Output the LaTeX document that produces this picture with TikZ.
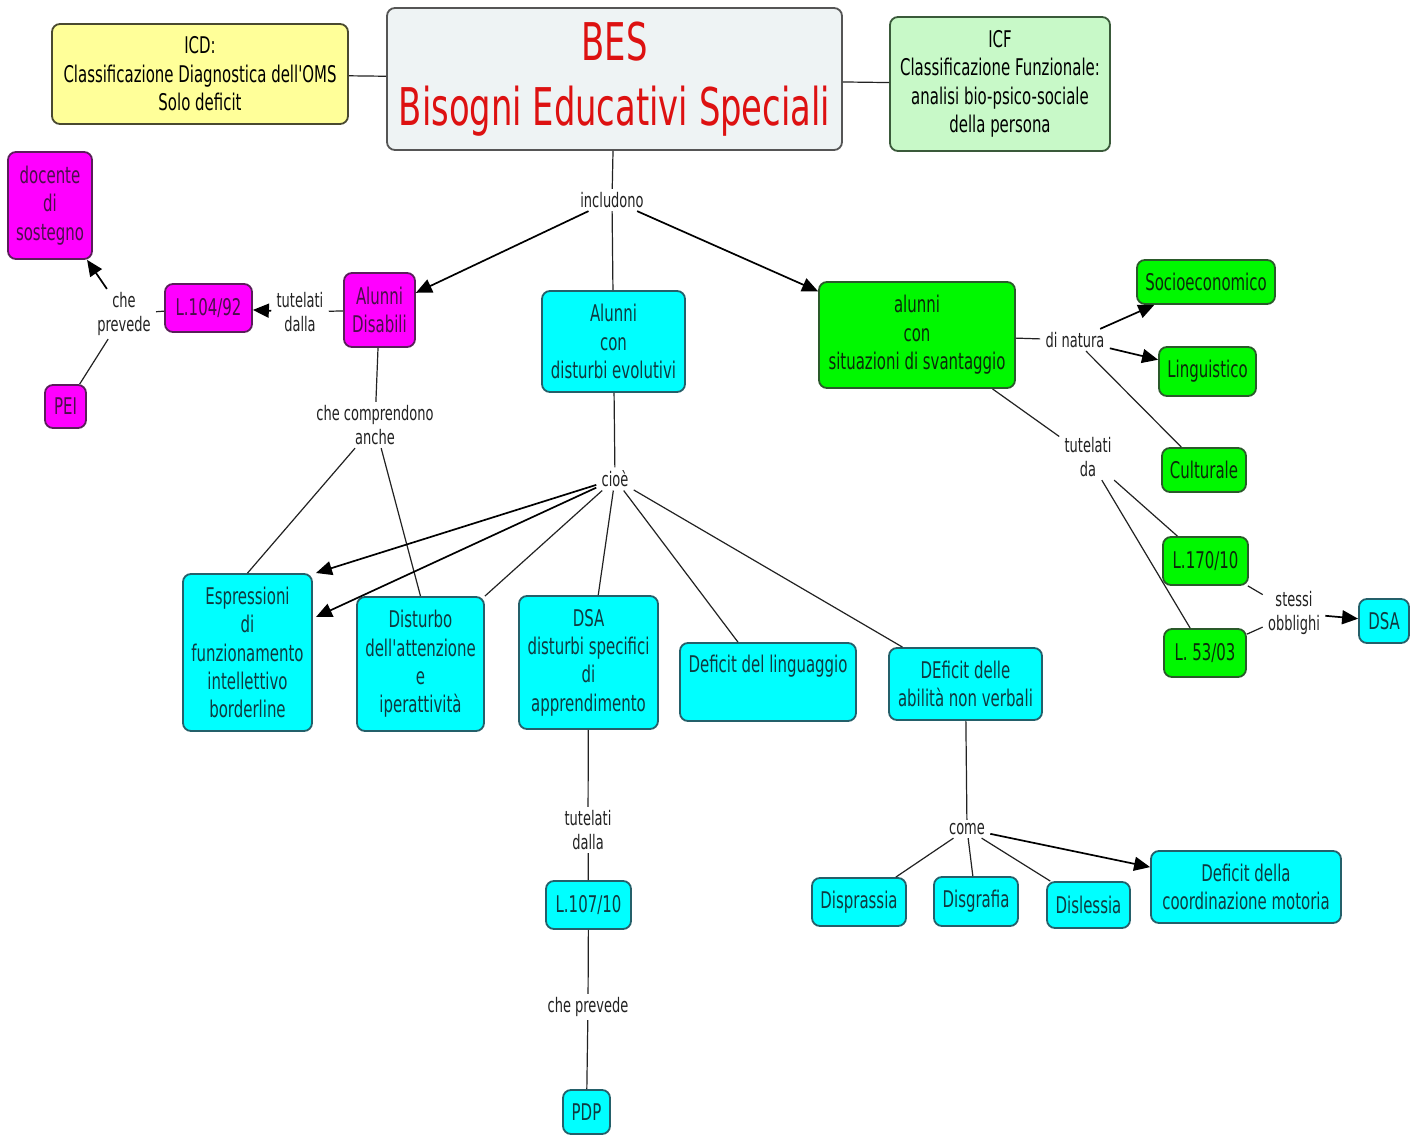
\documentclass[tikz,border=0pt]{standalone}
\usepackage{fontspec}
\setmainfont{DejaVu Sans}[FakeStretch=0.65, Ligatures=TeXOff]
\usetikzlibrary{arrows.meta,calc}
\definecolor{magFill}{HTML}{FF00FF}
\definecolor{magBorder}{HTML}{5A1E5A}
\definecolor{magText}{HTML}{4B0F4B}
\definecolor{cyaFill}{HTML}{00FFFF}
\definecolor{cyaBorder}{HTML}{24606A}
\definecolor{cyaText}{HTML}{0F3A40}
\definecolor{grnFill}{HTML}{00F800}
\definecolor{grnBorder}{HTML}{2A5A2A}
\definecolor{grnText}{HTML}{0A2A0A}
\definecolor{yelFill}{HTML}{FFFF99}
\definecolor{yelBorder}{HTML}{4A4A30}
\definecolor{besFill}{HTML}{EEF3F4}
\definecolor{besBorder}{HTML}{555555}
\definecolor{besText}{HTML}{DD1111}
\definecolor{icfFill}{HTML}{C8F9C8}
\definecolor{icfBorder}{HTML}{3A5A3A}
\definecolor{lineCol}{HTML}{222222}
\definecolor{labText}{HTML}{222222}
\tikzset{
  box/.style={draw, rounded corners=4pt, line width=0.9pt, align=center, inner sep=0pt,
    font=\fontsize{11.5}{14.2}\selectfont},
  mag/.style={box, fill=magFill, draw=magBorder, text=magText},
  cya/.style={box, fill=cyaFill, draw=cyaBorder, text=cyaText},
  grn/.style={box, fill=grnFill, draw=grnBorder, text=grnText},
  lab/.style={fill=white, inner xsep=2.5pt, inner ysep=1.5pt, align=center,
    font=\fontsize{10}{12}\selectfont, text=labText},
  conn/.style={line width=0.6pt, draw=lineCol},
  arr/.style={line width=0.85pt, draw=black, -{Triangle[length=8pt,width=7pt]}},
  sz/.style 2 args={minimum width=#1pt, minimum height=#2pt}
}
\begin{document}
\begin{tikzpicture}[x=0.5pt,y=-0.5pt]
\useasboundingbox (0,0) rectangle (1410,1135);
\fill[white] (0,0) rectangle (1410,1135);

% top row
\node[box, fill=yelFill, draw=yelBorder, text=black, sz={148}{50}] (icd) at (200,74)
  {ICD:\\Classificazione Diagnostica dell'OMS\\Solo deficit};
\node[box, fill=besFill, draw=besBorder, text=besText, sz={227.5}{71},
  font=\fontsize{26}{32.5}\selectfont] (bes) at (614.5,79)
  {BES\\Bisogni Educativi Speciali};
\node[box, fill=icfFill, draw=icfBorder, text=black, sz={110}{67}] (icf) at (1000,84)
  {ICF\\Classificazione Funzionale:\\analisi bio-psico-sociale\\della persona};

% magenta
\node[mag, sz={35.5}{37}] (dis) at (379.5,310) {Alunni\\Disabili};
\node[mag, sz={43.5}{24}] (l104) at (208.5,308) {L.104/92};
\node[mag, sz={42}{53.5}] (doc) at (50,205.5) {docente\\di\\sostegno};
\node[mag, sz={20.5}{21.5}] (pei) at (65.5,406.5) {PEI};

% cyan
\node[cya, sz={71.5}{50.5}] (evol) at (613.5,341.5) {Alunni\\con\\disturbi evolutivi};
\node[cya, sz={64.5}{78.5}] (espr) at (247.5,652.5) {Espressioni\\di\\funzionamento\\intellettivo\\borderline};
\node[cya, sz={63.5}{67}] (distatt) at (420.5,664) {Disturbo\\dell'attenzione\\e\\iperattività};
\node[cya, sz={69.5}{66.5}] (dsa) at (588.5,662.5) {DSA\\disturbi specifici\\di\\apprendimento};
\node[cya, sz={88}{39}] (lingu) at (768,682) {Deficit del linguaggio\\\strut};
\node[cya, sz={76.5}{36}] (abil) at (965.5,684) {DEficit delle\\abilità non verbali};
\node[cya, sz={42.5}{24}] (l107) at (588.5,905) {L.107/10};
\node[cya, sz={23.5}{22}] (pdp) at (586.5,1112) {PDP};
\node[cya, sz={47}{24}] (dispr) at (859,902) {Disprassia};
\node[cya, sz={42}{24.5}] (disgr) at (976,901.5) {Disgrafia};
\node[cya, sz={41.5}{23}] (disle) at (1088.5,905) {Dislessia};
\node[cya, sz={95}{36}] (coord) at (1246,887) {Deficit della\\coordinazione motoria};
\node[cya, sz={25}{22}] (dsa2) at (1384,621) {DSA};

% green
\node[grn, sz={98}{53}] (svan) at (917,335) {alunni\\con\\situazioni di svantaggio};
\node[grn, sz={69}{22}] (socio) at (1206,282) {Socioeconomico};
\node[grn, sz={48.5}{24.5}] (lingu2) at (1207.5,371.5) {Linguistico};
\node[grn, sz={42}{22}] (cult) at (1204,470) {Culturale};
\node[grn, sz={42.5}{24}] (l170) at (1205.5,561) {L.170/10};
\node[grn, sz={41}{24}] (l53) at (1205,653) {L. 53/03};

% labels
\node[lab] (incl) at (612,200) {includono};
\node[lab] (tutdalla1) at (300,312) {tutelati\\dalla};
\node[lab] (cheprev1) at (124,314) {che\\prevede};
\node[lab] (comprend) at (375,425) {che comprendono\\anche};
\node[lab] (cioe) at (615,479) {cioè};
\node[lab] (tutdalla2) at (588,830) {tutelati\\dalla};
\node[lab] (cheprev2) at (588,1007) {che prevede};
\node[lab] (come) at (967,829) {come};
\node[lab] (dinatura) at (1075,340) {di natura};
\node[lab] (tutda) at (1088,457) {tutelati\\da};
\node[lab] (stessi) at (1294,613) {stessi\\obblighi};

\coordinate (espA) at (316,573);
\coordinate (espB) at (316,617);

% connectors
\draw[conn] (icd) -- (bes);
\draw[conn] (bes) -- (icf);
\draw[conn] (bes) -- (incl);
\draw[arr] (incl) -- (dis);
\draw[conn] (incl) -- (evol);
\draw[arr] (incl) -- (svan);

\draw[conn] (dis) -- (tutdalla1);
\draw[arr] (tutdalla1) -- (l104);
\draw[conn] (l104) -- (cheprev1);
\draw[arr] (cheprev1) -- (doc);
\draw[conn] (cheprev1) -- (pei);

\draw[conn] (dis) -- (comprend);
\draw[conn] (comprend) -- (espr.north);
\draw[conn] (comprend) -- (distatt.north);

\draw[conn] (evol) -- (cioe);
\draw[arr] (cioe) -- (espA);
\draw[arr] (cioe) -- (espB);
\draw[conn] (cioe) -- (distatt.north east);
\draw[conn] (cioe) -- (dsa);
\draw[conn] (cioe) -- (lingu);
\draw[conn] (cioe) -- (abil);

\draw[conn] (dsa) -- (tutdalla2);
\draw[conn] (tutdalla2) -- (l107);
\draw[conn] (l107) -- (cheprev2);
\draw[conn] (cheprev2) -- (pdp);

\draw[conn] (abil) -- (come);
\draw[conn] (come) -- (dispr);
\draw[conn] (come) -- (disgr);
\draw[conn] (come) -- (disle);
\draw[arr] (come) -- (coord);

\draw[conn] (svan) -- (dinatura);
\draw[arr] (dinatura) -- (socio);
\draw[arr] (dinatura) -- (lingu2);
\draw[conn] (dinatura) -- (cult);
\draw[conn] (svan) -- (tutda);
\draw[conn] (tutda) -- (l170);
\draw[conn] (tutda) -- (l53);
\draw[conn] (l170) -- (stessi);
\draw[conn] (l53) -- (stessi);
\draw[arr] (stessi) -- (dsa2);
\end{tikzpicture}
\end{document}
